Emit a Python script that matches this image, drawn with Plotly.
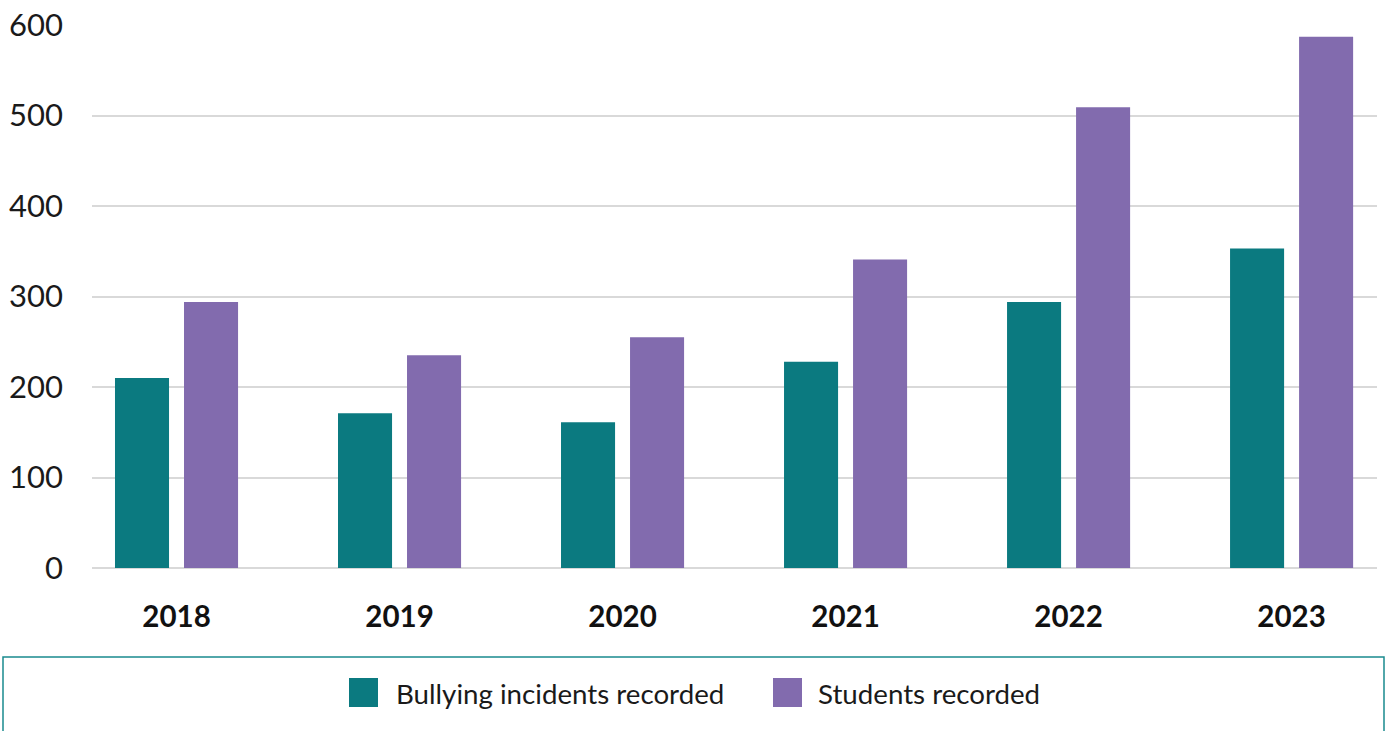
import plotly.graph_objects as go

years = ["2018", "2019", "2020", "2021", "2022", "2023"]
bullying_incidents = [210, 171, 161, 228, 294, 353]
students_recorded = [294, 235, 255, 341, 509, 587]
series_names = ["Bullying incidents recorded", "Students recorded"]
colors = ["#0b7a80", "#826bae"]
y_ticks = [0, 100, 200, 300, 400, 500, 600]

FONT = "Lato"
W, H = 1386, 731
L, R, T, B = 92, 9, 25, 163
pw, ph = W - L - R, H - T - B

def px_x(x):
    return (x - L) / pw

def px_y(y):
    return (H - B - y) / ph

fig = go.Figure()
for name, vals, col in zip(series_names, [bullying_incidents, students_recorded], colors):
    fig.add_trace(go.Bar(x=years, y=vals, name=name, marker=dict(color=col, line=dict(width=0)),
                         showlegend=False))

# Legend box and manual legend entries (larger swatches than Plotly's legend allows)
shapes = [dict(type="rect", xref="paper", yref="paper",
               x0=px_x(3), x1=px_x(1384), y0=px_y(657), y1=px_y(740),
               line=dict(color="#1a8a8e", width=1.5), fillcolor="rgba(0,0,0,0)", layer="below")]
annotations = []
swatch_x = [349, 773]
text_x = [394, 816]
for sx, tx, name, col in zip(swatch_x, text_x, series_names, colors):
    shapes.append(dict(type="rect", xref="paper", yref="paper",
                       x0=px_x(sx), x1=px_x(sx + 29), y0=px_y(678), y1=px_y(707),
                       fillcolor=col, line=dict(width=0)))
    annotations.append(dict(xref="paper", yref="paper", x=px_x(tx), y=px_y(693),
                            xanchor="left", yanchor="middle", showarrow=False, text=name,
                            font=dict(family=FONT, size=27.7, color="#1a1a1a")))

fig.update_layout(
    width=W, height=H,
    margin=dict(l=L, r=R, t=T, b=B, pad=0, autoexpand=False),
    paper_bgcolor="white", plot_bgcolor="white",
    barmode="group", bargap=0.381, bargroupgap=0.217,
    shapes=shapes, annotations=annotations,
    showlegend=False,
    font=dict(family=FONT, color="#1a1a1a"),
)
fig.update_xaxes(type="category", range=[-0.379, 5.383], showgrid=False, showline=False,
                 zeroline=False, ticks="", ticklabelstandoff=28,
                 tickfont=dict(family=FONT, size=29.5, color="#111111", weight="bold"))
fig.update_yaxes(range=[0, 600], tickvals=y_ticks, showgrid=True, gridcolor="#d9d9d9",
                 gridwidth=1.5, zeroline=True, zerolinecolor="#d9d9d9", zerolinewidth=1.5,
                 showline=False, ticks="", ticklabelstandoff=28,
                 tickfont=dict(family=FONT, size=31, color="#1a1a1a"))

fig.write_html("out.html")
